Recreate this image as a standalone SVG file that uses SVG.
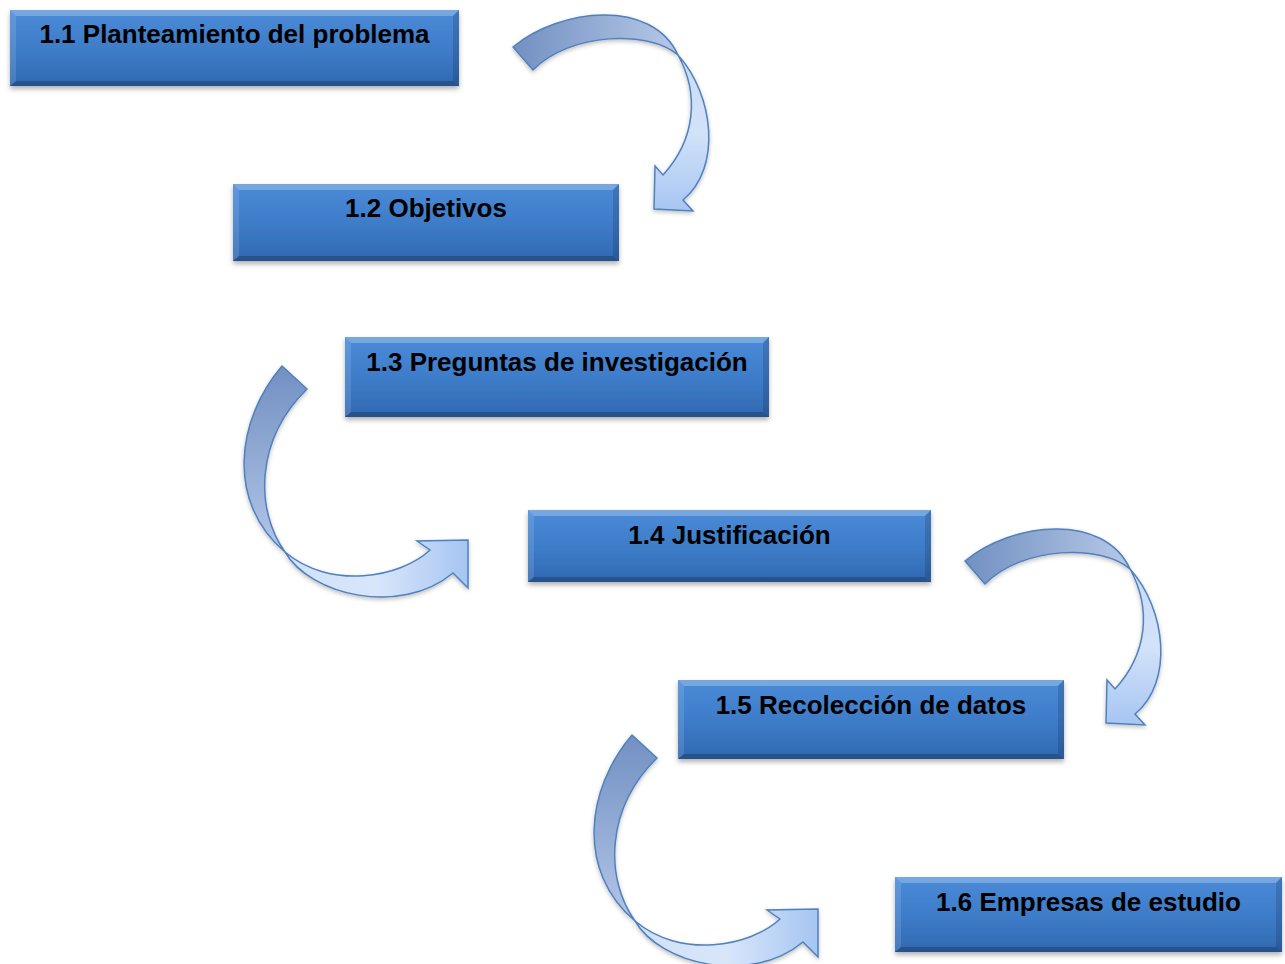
<svg xmlns="http://www.w3.org/2000/svg" width="1285" height="964" viewBox="0 0 1285 964">
<defs>
<linearGradient id="face" x1="0" y1="0" x2="0" y2="1">
<stop offset="0" stop-color="#4a8bd8"/>
<stop offset="0.55" stop-color="#3d7bc7"/>
<stop offset="1" stop-color="#3068b1"/>
</linearGradient>
<linearGradient id="darkH" x1="0" y1="0" x2="1" y2="0">
<stop offset="0" stop-color="#7290c2"/>
<stop offset="1" stop-color="#b6c8e7"/>
</linearGradient>
<linearGradient id="lightV" x1="0" y1="0" x2="0" y2="1">
<stop offset="0" stop-color="#c9dbf6"/>
<stop offset="0.5" stop-color="#d2e2f9"/>
<stop offset="1" stop-color="#a6c5f2"/>
</linearGradient>
<linearGradient id="darkV" x1="0" y1="0" x2="0" y2="1">
<stop offset="0" stop-color="#7290c2"/>
<stop offset="1" stop-color="#b3c6e7"/>
</linearGradient>
<linearGradient id="lightH" x1="0" y1="0" x2="1" y2="0">
<stop offset="0" stop-color="#cfe0f8"/>
<stop offset="0.5" stop-color="#d8e6fa"/>
<stop offset="1" stop-color="#a6c5f2"/>
</linearGradient>
<filter id="sh" x="-10%" y="-10%" width="120%" height="130%">
<feDropShadow dx="0" dy="3" stdDeviation="2.5" flood-color="#000" flood-opacity="0.3"/>
</filter>
<filter id="ash" x="-10%" y="-10%" width="120%" height="130%">
<feDropShadow dx="0" dy="2" stdDeviation="2" flood-color="#000" flood-opacity="0.25"/>
</filter>
<g id="arrowR">
<path class="dkH" d="M513,47 C560,8 652,-2 678,55 C650,30 570,32 533,70 Z"/>
<path class="ltV" d="M678,55 C714,95 722,168 683,200 L693,211 L654,209 L655,166 L663,175 C695,140 700,95 678,55 Z"/>
</g>
<g id="arrowL">
<path class="dkV" d="M282,366 C236,420 226,502 285,552 C255,510 255,440 307,389 Z"/>
<path class="ltH" d="M285,552 C310,595 400,617 453,573 L468,588 L468,540 L417,541 L430,550 C400,578 330,590 285,552 Z"/>
</g>
</defs>
<style>
.box{fill:url(#face);filter:url(#sh)}
.bt{fill:#ffffff;fill-opacity:0.25}
.bl{fill:#ffffff;fill-opacity:0.12}
.br{fill:#000000;fill-opacity:0.14}
.bb{fill:#000000;fill-opacity:0.22}
.lbl{font-family:"Liberation Sans",Arial,sans-serif;font-weight:bold;font-size:26px;fill:#000;text-anchor:middle}
.dkH{fill:url(#darkH);stroke:#4f81bd;stroke-width:1.5;stroke-linejoin:round}
.ltV{fill:url(#lightV);stroke:#4f81bd;stroke-width:1.5;stroke-linejoin:miter}
.dkV{fill:url(#darkV);stroke:#4f81bd;stroke-width:1.5;stroke-linejoin:round}
.ltH{fill:url(#lightH);stroke:#4f81bd;stroke-width:1.5;stroke-linejoin:miter}
.arr{filter:url(#ash)}
</style>
<rect width="1285" height="964" fill="#ffffff"/>

<g id="connectors">
<use class="arr" href="#arrowR"/>
<use class="arr" href="#arrowL"/>
<use class="arr" href="#arrowR" transform="translate(452,514)"/>
<use class="arr" href="#arrowL" transform="translate(350,369)"/>
</g>

<g id="n1">
<rect class="box" x="10" y="10" width="449" height="76"/>
<polygon class="bt" points="10,10 459,10 453,16 16,16"/>
<polygon class="bl" points="10,10 16,16 16,81 10,86"/>
<polygon class="br" points="459,10 459,86 453,81 453,16"/>
<polygon class="bb" points="10,86 16,81 453,81 459,86"/>
<text class="lbl" x="234.5" y="43">1.1 Planteamiento del problema</text>
</g>

<g id="n2">
<rect class="box" x="233" y="184" width="386" height="77"/>
<polygon class="bt" points="233,184 619,184 613,190 239,190"/>
<polygon class="bl" points="233,184 239,190 239,256 233,261"/>
<polygon class="br" points="619,184 619,261 613,256 613,190"/>
<polygon class="bb" points="233,261 239,256 613,256 619,261"/>
<text class="lbl" x="426" y="217">1.2 Objetivos</text>
</g>

<g id="n3">
<rect class="box" x="345" y="337" width="424" height="80"/>
<polygon class="bt" points="345,337 769,337 763,343 351,343"/>
<polygon class="bl" points="345,337 351,343 351,412 345,417"/>
<polygon class="br" points="769,337 769,417 763,412 763,343"/>
<polygon class="bb" points="345,417 351,412 763,412 769,417"/>
<text class="lbl" x="557" y="371">1.3 Preguntas de investigación</text>
</g>

<g id="n4">
<rect class="box" x="528" y="510" width="403" height="72"/>
<polygon class="bt" points="528,510 931,510 925,516 534,516"/>
<polygon class="bl" points="528,510 534,516 534,577 528,582"/>
<polygon class="br" points="931,510 931,582 925,577 925,516"/>
<polygon class="bb" points="528,582 534,577 925,577 931,582"/>
<text class="lbl" x="729.5" y="544">1.4 Justificación</text>
</g>

<g id="n5">
<rect class="box" x="678" y="680" width="386" height="79"/>
<polygon class="bt" points="678,680 1064,680 1058,686 684,686"/>
<polygon class="bl" points="678,680 684,686 684,754 678,759"/>
<polygon class="br" points="1064,680 1064,759 1058,754 1058,686"/>
<polygon class="bb" points="678,759 684,754 1058,754 1064,759"/>
<text class="lbl" x="871" y="714">1.5 Recolección de datos</text>
</g>

<g id="n6">
<rect class="box" x="895" y="877" width="387" height="75"/>
<polygon class="bt" points="895,877 1282,877 1276,883 901,883"/>
<polygon class="bl" points="895,877 901,883 901,947 895,952"/>
<polygon class="br" points="1282,877 1282,952 1276,947 1276,883"/>
<polygon class="bb" points="895,952 901,947 1276,947 1282,952"/>
<text class="lbl" x="1088.5" y="911">1.6 Empresas de estudio</text>
</g>
</svg>
